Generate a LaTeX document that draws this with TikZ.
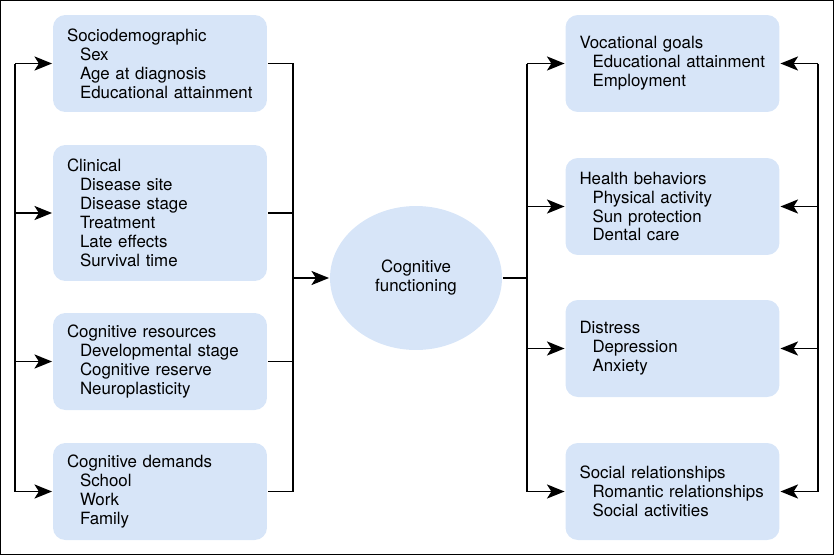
\documentclass[tikz,border=0pt]{standalone}
\usepackage{fontspec}
\setmainfont{TeX Gyre Heros}
\usetikzlibrary{arrows.meta,shapes.geometric}
\definecolor{boxblue}{HTML}{D7E5F8}
\newcommand\ind{\hspace*{7.4pt}}
\tikzset{
	factor/.style={draw=none,fill=boxblue,rounded corners=7pt,minimum width=4.28cm,minimum height=1.94cm,
		inner xsep=0.28cm,text width=3.72cm,align=left,font=\fontsize{9.6}{10.8}\selectfont},
	arr/.style={-{Stealth[length=10pt,width=8pt,inset=2.5pt]}},
}
\begin{document}
\begin{tikzpicture}[x=0.02cm,y=-0.02cm,line width=1.1pt]
			\useasboundingbox (0,0) rectangle (834,555);
			\draw[line width=0.8pt] (0.5,0.5) rectangle (833.5,554.5);
			\node[factor] (socio) at (160,63.5) {Sociodemographic\\\ind Sex\\\ind Age at diagnosis\\\ind Educational attainment};
			\node[factor,minimum height=2.72cm] (clin) at (160,213) {Clinical\\\ind Disease site\\\ind Disease stage\\\ind Treatment\\\ind Late effects\\\ind Survival time};
			\node[factor] (res) at (160,361.5) {Cognitive resources\\\ind Developmental stage\\\ind Cognitive reserve\\\ind Neuroplasticity};
			\node[factor] (dem) at (160,491.5) {Cognitive demands\\\ind School\\\ind Work\\\ind Family};
			\node[factor] (voc) at (672.5,63.5) {Vocational goals\\\ind Educational attainment\\\ind Employment};
			\node[factor] (health) at (672.5,206.5) {Health behaviors\\\ind Physical activity\\\ind Sun protection\\\ind Dental care};
			\node[factor] (dist) at (672.5,348.5) {Distress\\\ind Depression\\\ind Anxiety};
			\node[factor] (social) at (672.5,491.5) {Social relationships\\\ind Romantic relationships\\\ind Social activities};
			\node[ellipse,fill=boxblue,minimum width=3.44cm,minimum height=2.88cm,align=center,
				font=\fontsize{9.6}{10.8}\selectfont] (cog) at (416,278) {Cognitive\\functioning};
			\coordinate (lout) at (15,0);
			\coordinate (lin) at (293,278);
			\coordinate (rin) at (527,278);
			\coordinate (rout) at (818,0);
			\draw (socio.west -| lout) -- (dem.west -| lout);
			\draw[arr] (socio.west -| lout) -- (socio.west);
			\draw[arr] (clin.west -| lout) -- (clin.west);
			\draw[arr] (res.west -| lout) -- (res.west);
			\draw[arr] (dem.west -| lout) -- (dem.west);
			\draw (socio.east) -- (socio.east -| lin) -- (dem.east -| lin) -- (dem.east);
			\draw (clin.east) -- (clin.east -| lin);
			\draw (res.east) -- (res.east -| lin);
			\draw[arr] (lin) -- (cog.west);
			\draw (cog.east) -- (rin);
			\draw (voc.west -| rin) -- (social.west -| rin);
			\draw[arr] (voc.west -| rin) -- (voc.west);
			\draw[arr] (health.west -| rin) -- (health.west);
			\draw[arr] (dist.west -| rin) -- (dist.west);
			\draw[arr] (social.west -| rin) -- (social.west);
			\draw (voc.east -| rout) -- (social.east -| rout);
			\draw[arr] (voc.east -| rout) -- (voc.east);
			\draw[arr] (health.east -| rout) -- (health.east);
			\draw[arr] (dist.east -| rout) -- (dist.east);
			\draw[arr] (social.east -| rout) -- (social.east);
		\end{tikzpicture}
\end{document}
